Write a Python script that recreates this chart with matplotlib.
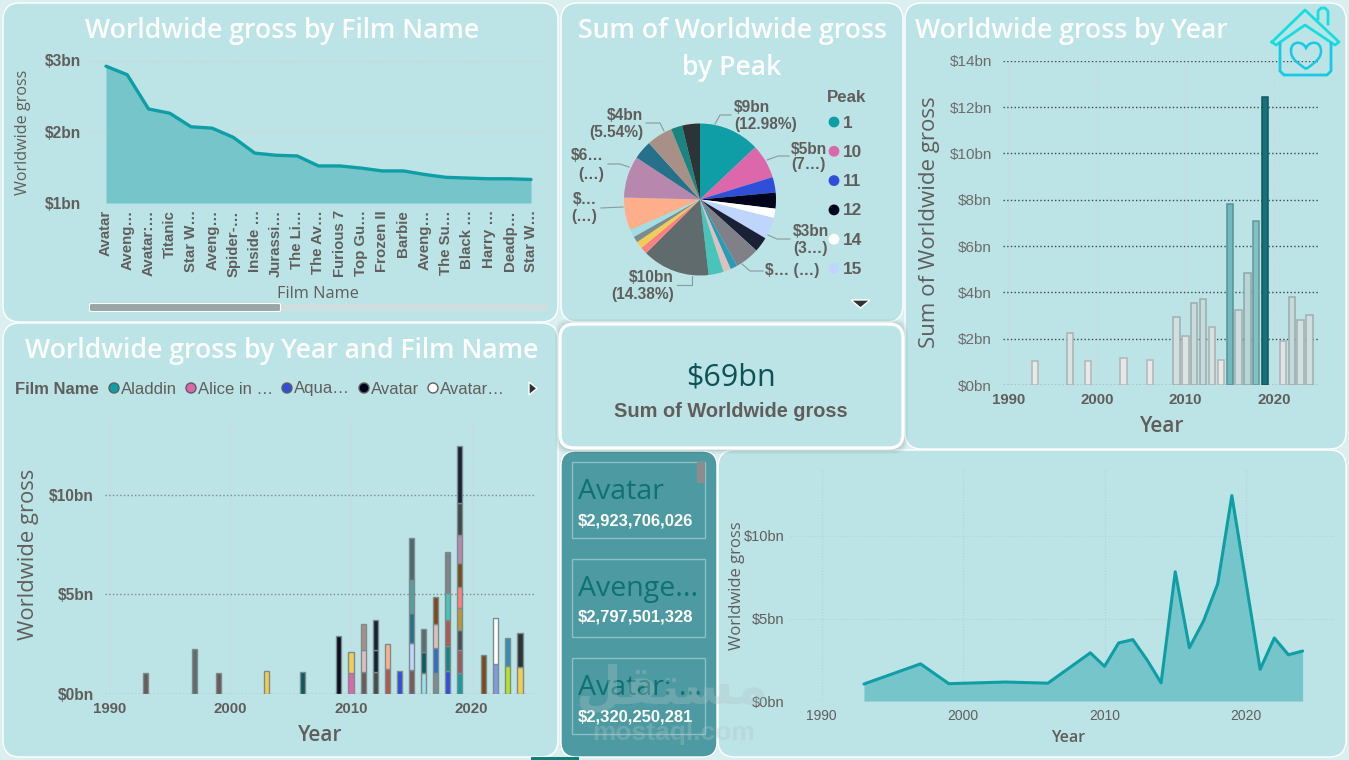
import matplotlib
matplotlib.use("Agg")
import matplotlib.pyplot as plt
from matplotlib.patches import FancyBboxPatch, Rectangle, Polygon, Circle, PathPatch
from matplotlib.path import Path
from matplotlib.colors import LinearSegmentedColormap, Normalize
from matplotlib.ticker import FuncFormatter

# ---------- data ----------
film_labels = ["Avatar", "Aveng…", "Avatar:…", "Titanic", "Star W…", "Aveng…", "Spider-…", "Inside …",
               "Jurassi…", "The Li…", "The Av…", "Furious 7", "Top Gu…", "Frozen II", "Barbie", "Aveng…",
               "The Su…", "Black …", "Harry …", "Deadp…", "Star W…"]
film_gross = [2.92, 2.80, 2.32, 2.26, 2.07, 2.05, 1.92, 1.70, 1.67, 1.66, 1.52, 1.52, 1.49, 1.45, 1.45,
              1.40, 1.36, 1.35, 1.34, 1.34, 1.33]

peak_share = [12.98, 7.3, 3.3, 3.4, 2.0, 4.6, 3.2, 5.2, 1.5, 1.6, 3.2, 14.38, 1.5, 1.5, 1.3, 1.6, 7.0, 8.9,
              4.0, 5.54, 2.4, 3.8]
peak_colors = ["#0F9EA5", "#DC67AB", "#2F4FD9", "#02041C", "#FFFFFF", "#BFD5FB", "#1A2035", "#7F8088",
               "#2A9BB5", "#E0BFBF", "#48C5BB", "#5F6B6D", "#FC8080", "#F2CD54", "#7F8C8D", "#A0DDE5",
               "#FEAE8B", "#B887AD", "#27708A", "#A89089", "#1A8480", "#2D3436"]
peak_legend = ["1", "10", "11", "12", "14", "15"]

years = [1993, 1997, 1999, 2003, 2006, 2009, 2010, 2011, 2012, 2013, 2014, 2015, 2016, 2017, 2018, 2019,
         2021, 2022, 2023, 2024]
year_gross = [1.03, 2.25, 1.05, 1.15, 1.08, 2.92, 2.10, 3.52, 3.72, 2.50, 1.10, 7.83, 3.23, 4.85, 7.10,
              12.45, 1.92, 3.82, 2.80, 3.03]

stack_segments = {
    1993: [(1.03, "#6B5A57")],
    1997: [(2.25, "#5F6B6D")],
    1999: [(1.05, "#6B5A57")],
    2003: [(1.15, "#F2CD54")],
    2006: [(1.08, "#0F5A5C")],
    2009: [(2.92, "#0B0F26")],
    2010: [(1.03, "#DC67AB"), (1.07, "#F2CD54")],
    2011: [(1.07, "#6B5A57"), (1.14, "#E0BFBF"), (1.30, "#A89089")],
    2012: [(1.07, "#4A4A4A"), (1.14, "#1A2035"), (1.50, "#1A2035")],
    2013: [(1.24, "#B0574F"), (1.27, "#FEAE8B")],
    2014: [(1.12, "#2F4FD9")],
    2015: [(1.17, "#7A5A5F"), (1.37, "#BFD5FB"), (1.54, "#27708A"), (1.66, "#5A9AA0"), (2.08, "#4A6A6C")],
    2016: [(1.04, "#A0DDE5"), (1.04, "#0F5A5C"), (1.17, "#5F6B6D")],
    2017: [(1.04, "#7F8C8D"), (1.27, "#2F6FC0"), (1.20, "#E0BFBF"), (1.37, "#7A4A1E")],
    2018: [(1.14, "#2F4FD9"), (1.27, "#1A8480"), (1.30, "#B0574F"), (1.34, "#48C5BB"), (2.06, "#7F8088")],
    2019: [(1.04, "#0F9EA5"), (1.14, "#9A5A5A"), (1.04, "#4A4F55"), (1.07, "#B8963A"), (1.10, "#FC8080"),
           (1.17, "#7A4A1E"), (1.40, "#B887AD"), (1.66, "#3F4A50"), (2.83, "#1A2035")],
    2021: [(1.94, "#7A4A1E")],
    2022: [(1.50, "#7F9BE0"), (2.30, "#FFFFFF")],
    2023: [(1.40, "#B5E61D"), (1.42, "#2F8FB5")],
    2024: [(1.34, "#F2CD54"), (1.70, "#2D3436")],
}
legend_films = ["Aladdin", "Alice in …", "Aqua…", "Avatar", "Avatar…"]
legend_film_colors = ["#0F9EA5", "#DC67AB", "#2F4FD9", "#02041C", "#FFFFFF"]
top_films = ["Avatar", "Avenge...", "Avatar: ..."]
top_values = ["$2,923,706,026", "$2,797,501,328", "$2,320,250,281"]

# ---------- style ----------
W, H = 1349, 760
PANEL = "#BCE4E6"
GREY = "#605E5C"
TEAL = "#0F9EA5"
SEGOE = ["Open Sans", "DejaVu Sans"]
ARIAL = ["Liberation Sans", "DejaVu Sans"]
fig = plt.figure(figsize=(W / 100, H / 100), dpi=100, facecolor="#DCEFF0")

bg = fig.add_axes([0, 0, 1, 1], zorder=0)
bg.set_xlim(0, W); bg.set_ylim(H, 0); bg.axis("off")
top = fig.add_axes([0, 0, 1, 1], zorder=10)
top.set_xlim(0, W); top.set_ylim(H, 0); top.axis("off"); top.patch.set_alpha(0)


def panel(x0, y0, x1, y1, fc=PANEL, lw=1.0, r=17):
    bg.add_patch(FancyBboxPatch((x0 + r, y0 + r), x1 - x0 - 2 * r, y1 - y0 - 2 * r,
                                boxstyle=f"round,pad={r},rounding_size={r}", fc=fc, ec="white", lw=lw))


def chart_ax(x0, x1, y_top, y_bot, xref=None, yref=None):
    ax = fig.add_axes([x0 / W, 1 - y_bot / H, (x1 - x0) / W, (y_bot - y_top) / H], zorder=5)
    ax.patch.set_alpha(0)
    for s in ax.spines.values():
        s.set_visible(False)
    if xref:
        (pa, va), (pb, vb) = xref
        k = (vb - va) / (pb - pa)
        ax.set_xlim(va + (x0 - pa) * k, va + (x1 - pa) * k)
    if yref:
        (pa, va), (pb, vb) = yref
        k = (vb - va) / (pb - pa)
        ax.set_ylim(va + (y_bot - pa) * k, va + (y_top - pa) * k)
    ax.tick_params(length=0)
    return ax


def title(x, y, s, size=19.2):
    top.text(x, y, s, color="white", fontsize=size, family=SEGOE, weight="semibold", ha="center", va="center")


bn = FuncFormatter(lambda v, _: f"${v:.0f}bn")

# panels
panel(3, 3, 558, 322)
panel(561, 3, 903, 322)
panel(905, 3, 1346, 449)
panel(3, 323, 558, 757)
panel(718, 450, 1346, 757)
panel(561, 451, 717, 757, fc="#4D9AA2", r=15)
for grow, a in [(5, 0.05), (3.5, 0.07), (2, 0.10)]:
    bg.add_patch(FancyBboxPatch((560 + 14 - grow, 324 + 14 - grow), 343 - 28 + 2 * grow, 125 - 28 + 2 * grow,
                                boxstyle="round,pad=14,rounding_size=14", fc="#3A5A5C", ec="none", alpha=a))
panel(560, 324, 903, 448, lw=2.4, r=14)

# ---- film area ----
ax = chart_ax(88, 547, 60.5, 203, xref=((106, 0), (531, 20)), yref=((203, 1), (60.5, 3)))
x = list(range(len(film_gross)))
ax.fill_between(x, film_gross, 1, color="#76C5CA", lw=0)
ax.plot(x, film_gross, color=TEAL, lw=2.4, solid_capstyle="round", clip_on=False)
ax.set_yticks([1, 2, 3]); ax.yaxis.set_major_formatter(bn)
ax.grid(axis="y", color="#D9CFCF", ls=":", lw=1)
ax.set_axisbelow(True)
ax.set_xticks(x)
ax.set_xticklabels(film_labels, rotation=90, fontsize=10.8, color=GREY, family=ARIAL, weight="bold",
                   va="top", ha="center")
ax.tick_params(axis="x", pad=5)
for t in ax.get_yticklabels():
    t.set(fontsize=11.2, color=GREY, family=ARIAL, weight="bold")
ax.tick_params(axis="y", pad=5)
top.text(318, 294, "Film Name", fontsize=11.8, color=GREY, family=SEGOE, ha="center", va="center")
top.text(23, 132, "Worldwide gross", fontsize=11.6, color=GREY, family=SEGOE, rotation=90, ha="center", va="center")
title(282, 31, "Worldwide gross by Film Name")
bg.add_patch(Rectangle((88, 304), 459, 7, fc="#CFDEDF", ec="none"))
bg.add_patch(FancyBboxPatch((91, 305), 188, 5, boxstyle="round,pad=1.5", fc="#9AA5A5", ec="white", lw=0.8))

# ---- pie ----
ax = chart_ax(624, 776, 123.5, 275.5)
ax.pie(peak_share, colors=peak_colors, startangle=90, counterclock=False, radius=1,
       wedgeprops=dict(lw=0))
ax.set_xlim(-1, 1); ax.set_ylim(-1, 1)
title(732, 31, "Sum of Worldwide gross")
title(732, 67.5, "by Peak")
pie_labels = [
    (734, 108, "$9bn", "left"), (734, 125, "(12.98%)", "left"),
    (791, 149, "$5bn", "left"), (791, 165, "(7…)", "left"),
    (793, 231, "$3bn", "left"), (793, 248, "(3…)", "left"),
    (765, 271, "$… (…)", "left"),
    (674, 277, "$10bn", "right"), (674, 294, "(14.38%)", "right"),
    (597, 200, "$…", "right"), (597, 217, "(…)", "right"),
    (604, 156, "$6…", "right"), (604, 175, "(…)", "right"),
    (643, 116, "$4bn", "right"), (643, 133, "(5.54%)", "right"),
]
for px, py, s, ha in pie_labels:
    top.text(px, py, s, fontsize=11.2, color=GREY, family=ARIAL, weight="bold", ha=ha, va="center")
leaders = [
    [(715, 124), (720, 115), (731, 115)], [(767, 160), (778, 156), (789, 156)],
    [(768, 235), (777, 239), (790, 239)], [(742, 264), (750, 271), (763, 271)],
    [(692, 276), (692, 285), (677, 285)], [(623, 207), (601, 208)],
    [(629, 167), (620, 164), (608, 164)], [(664, 131), (660, 123), (646, 123)],
]
for pts in leaders:
    top.plot(*zip(*pts), color="#8A9A9B", lw=0.8)
top.text(827, 98, "Peak", fontsize=12.2, color=GREY, family=ARIAL, weight="bold", ha="left", va="center")
for i, (lab, col) in enumerate(zip(peak_legend, peak_colors)):
    py = 122 + i * 29.3
    top.add_patch(Circle((834, py), 5.4, fc=col, ec="none"))
    top.text(843, py + 1, lab, fontsize=12.4, color=GREY, family=ARIAL, weight="bold", ha="left", va="center")
top.add_patch(Polygon([(851, 300), (870, 300), (860.5, 308)], fc="#2D3436", ec="white", lw=1))

# ---- year bars ----
ax = chart_ax(1003, 1320, 60.7, 385, xref=((1008.3, 1990), (1274, 2020)), yref=((385, 0), (60.7, 14)))
cmap = LinearSegmentedColormap.from_list("g", ["#E8E9E9", "#B9D5D7", "#5DB3B8", "#17717A"])
norm = Normalize(1, 12.45)
bar_fill = [cmap(norm(v)) for v in year_gross]
bar_edge = [(r * 0.78, g * 0.78, b * 0.78, 1) for r, g, b, _ in bar_fill]
ax.bar(years, year_gross, width=0.72, color=bar_fill, edgecolor=bar_edge, lw=1.1, zorder=3)
ax.set_yticks(range(0, 15, 2)); ax.yaxis.set_major_formatter(bn)
ax.set_xticks([1990, 2000, 2010, 2020])
ax.grid(axis="y", color="#3A4A4C", ls=":", lw=1)
ax.grid(axis="x", color="#D9CFCF", ls=":", lw=0.8)
ax.set_axisbelow(True)
for t in ax.get_yticklabels():
    t.set(fontsize=11, color="#6E6C6A", family=ARIAL)
for t in ax.get_xticklabels():
    t.set(fontsize=10.8, color=GREY, family=ARIAL, weight="bold")
ax.tick_params(axis="y", pad=8); ax.tick_params(axis="x", pad=6)
top.text(1162, 426.5, "Year", fontsize=15, color=GREY, family=SEGOE, weight="semibold", ha="center", va="center")
top.text(929, 222, "Sum of Worldwide gross", fontsize=16, color=GREY, family=SEGOE, rotation=90,
         ha="center", va="center")
top.text(1071, 31, "Worldwide gross by Year", fontsize=19.2, color="white", family=SEGOE, weight="semibold",
         ha="center", va="center")
# house icon
CY = "#18DDE0"
BL = "#18C8E4"
roof = [(1272, 42), (1305, 10), (1339, 42), (1335, 45), (1305, 25), (1276, 45), (1272, 42)]
top.plot(*zip(*roof), color=CY, lw=2, solid_joinstyle="round")
top.plot([1280, 1280, 1284, 1327, 1331, 1331], [44, 71, 75, 75, 71, 44], color=BL, lw=2, solid_joinstyle="round")
top.plot([1318, 1318, 1321, 1325, 1328, 1328], [19, 11, 8, 8, 11, 24], color=CY, lw=2, solid_joinstyle="round")
heart = Path([(1306, 69), (1296, 62), (1291, 58), (1291, 51), (1291, 40), (1303, 41), (1306, 48),
              (1309, 41), (1321, 40), (1321, 51), (1321, 58), (1316, 62), (1306, 69)],
             [Path.MOVETO] + [Path.CURVE4] * 12)
top.add_patch(PathPatch(heart, fc="none", ec=BL, lw=1.8))

# ---- stacked bars ----
ax = chart_ax(105, 536, 420, 693.5, xref=((351, 2010), (471.7, 2020)), yref=((693.5, 0), (495, 10)))
for yr, segs in stack_segments.items():
    b = 0
    for v, c in segs:
        ax.bar(yr, v, bottom=b, width=0.42, color=c, edgecolor="#7E8A8B", lw=1.0, zorder=3)
        b += v
ax.set_yticks([0, 5, 10]); ax.yaxis.set_major_formatter(bn)
ax.set_xticks([1990, 2000, 2010, 2020])
ax.grid(axis="y", color="#7E8A8B", ls=":", lw=1)
ax.grid(axis="x", color="#D9CFCF", ls=":", lw=0.8)
ax.set_axisbelow(True)
for t in ax.get_yticklabels():
    t.set(fontsize=11.2, color=GREY, family=ARIAL, weight="bold")
for t in ax.get_xticklabels():
    t.set(fontsize=10.8, color=GREY, family=ARIAL, weight="bold")
ax.tick_params(axis="y", pad=8); ax.tick_params(axis="x", pad=6)
top.text(320, 735.5, "Year", fontsize=15, color=GREY, family=SEGOE, weight="semibold", ha="center", va="center")
top.text(29, 554, "Worldwide gross", fontsize=15.8, color=GREY, family=SEGOE, rotation=90, ha="center", va="center")
title(282, 351, "Worldwide gross by Year and Film Name")
top.text(15, 389, "Film Name", fontsize=12, color=GREY, family=ARIAL, weight="bold", ha="left", va="center")
leg_x = [114, 191, 287, 364, 433]
for lx, lab, col in zip(leg_x, legend_films, legend_film_colors):
    top.add_patch(Circle((lx, 388), 5, fc=col, ec="#605E5C", lw=1))
    top.text(lx + 7, 389, lab, fontsize=12, color=GREY, family=ARIAL, ha="left", va="center")
top.add_patch(Polygon([(529, 382), (529, 395), (537, 388.5)], fc="#2D3436", ec="white", lw=1))

# ---- card ----
top.text(731, 378, "$69bn", fontsize=22, color="#0D5356", family=SEGOE, ha="center", va="center")
top.text(731, 411.5, "Sum of Worldwide gross", fontsize=14.4, color=GREY, family=ARIAL, weight="bold",
         ha="center", va="center")

# ---- multi-row card ----
card_tops = [462, 559, 658]
card_bots = [538, 637, 734]
for y0, y1, name, val in zip(card_tops, card_bots, top_films, top_values):
    bg.add_patch(Rectangle((572, y0), 133, y1 - y0, fc="none", ec="#8FBFC3", lw=1))
    top.text(578, y0 + 30, name, fontsize=20.5, color="#0E7272", family=SEGOE,
             ha="left", va="center")
    top.text(578, y0 + 58.5, val, fontsize=12, color="white", family=ARIAL, weight="bold", ha="left", va="center")
top.add_patch(Rectangle((697, 462), 8, 21, fc="#8C8C8C", ec="none"))

# ---- year area ----
ax = chart_ax(790, 1335, 470, 701, xref=((963, 2000), (1246, 2020)), yref=((701, 0), (536, 10)))
ax.fill_between(years, year_gross, 0, color="#76C5CA", lw=0)
ax.plot(years, year_gross, color=TEAL, lw=2.2, solid_capstyle="round")
ax.set_yticks([0, 5, 10]); ax.yaxis.set_major_formatter(bn)
ax.set_xticks([1990, 2000, 2010, 2020])
ax.grid(axis="both", color="#B4D2D4", ls=":", lw=0.8)
ax.set_axisbelow(True)
for t in ax.get_yticklabels():
    t.set(fontsize=10.5, color=GREY, family=ARIAL)
for t in ax.get_xticklabels():
    t.set(fontsize=10, color=GREY, family=ARIAL)
ax.tick_params(axis="y", pad=4); ax.tick_params(axis="x", pad=6)
top.text(1068, 738, "Year", fontsize=11.5, color=GREY, family=SEGOE, weight="semibold", ha="center", va="center")
top.text(737, 586, "Worldwide gross", fontsize=12, color=GREY, family=SEGOE, rotation=90, ha="center", va="center")

# watermark
top.text(672, 688, "\uFEDE\uFED8\uFE98\uFEB4\uFEE3", fontsize=38, color="#AEC4C6", alpha=0.32, family=["DejaVu Sans"],
         weight="bold", ha="center", va="center")
top.text(674, 733, "mostaql.com", fontsize=19, color="#AEC4C6", alpha=0.32, family=ARIAL, weight="bold",
         ha="center", va="center")
top.add_patch(Rectangle((531, 757), 48, 3, fc="#0F7F78", ec="none"))

fig.savefig("out.png", dpi=100, facecolor=fig.get_facecolor())
